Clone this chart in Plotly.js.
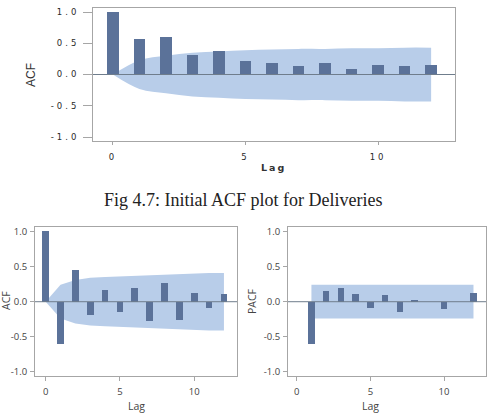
<!DOCTYPE html>
<html>
<head>
<meta charset="utf-8">
<script src="https://cdn.plot.ly/plotly-3.0.1.min.js"></script>
<style>
  html, body { margin: 0; padding: 0; background: #fff; }
  #chart { width: 491px; height: 418px; }
  .xtick text, .ytick text { letter-spacing: 3px; }
</style>
</head>
<body>
<div id="chart"></div>
<script>
// ---- Data ----
const lagsTop = [0, 1, 2, 3, 4, 5, 6, 7, 8, 9, 10, 11, 12];
const acfTop = [1.0, 0.565, 0.597, 0.32, 0.376, 0.215, 0.19, 0.13, 0.19, 0.086, 0.15, 0.13, 0.16];
const bandTop = [0, 0.23, 0.30, 0.35, 0.37, 0.39, 0.40, 0.41, 0.41, 0.42, 0.42, 0.43, 0.43];

const lagsAcf = [0, 1, 2, 3, 4, 5, 6, 7, 8, 9, 10, 11, 12];
const acfDiff = [1.0, -0.60, 0.45, -0.19, 0.16, -0.14, 0.20, -0.27, 0.27, -0.26, 0.13, -0.09, 0.11];
const bandAcf = [0, 0.24, 0.31, 0.34, 0.35, 0.36, 0.37, 0.38, 0.39, 0.40, 0.40, 0.41, 0.41];

const lagsPacf = [1, 2, 3, 4, 5, 6, 7, 8, 9, 10, 11, 12];
const pacfDiff = [-0.60, 0.15, 0.20, 0.11, -0.09, 0.09, -0.14, 0.03, -0.01, -0.10, -0.01, 0.13];
const bandPacf = [0.24, 0.24, 0.24, 0.24, 0.24, 0.24, 0.24, 0.24, 0.24, 0.24, 0.24, 0.24];

const xTickVals = [0, 5, 10];
const xTickText = ['0', '5', '10'];
const yTickVals = [-1, -0.5, 0, 0.5, 1];
const yTickText = ['-1.0', '-0.5', '0.0', '0.5', '1.0'];

const captionText = 'Fig 4.7: Initial ACF plot for Deliveries';
const xTitle = 'Lag';
const yTitleAcf = 'ACF';
const yTitlePacf = 'PACF';

// ---- Styles ----
const barColor = '#5b7299';
const bandColor = '#b8cde9';
const frameColor = '#a6a6a6';
const zeroColor = '#6f7d8c';

const neg = a => a.map(v => -v);

function bandTraces(x, band, xa, ya, shape) {
  return [
    {x: x, y: neg(band), type: 'scatter', mode: 'lines', line: {width: 0, shape: shape, color: bandColor},
     xaxis: xa, yaxis: ya, hoverinfo: 'skip'},
    {x: x, y: band, type: 'scatter', mode: 'lines', line: {width: 0, shape: shape, color: bandColor},
     fill: 'tonexty', fillcolor: bandColor, xaxis: xa, yaxis: ya, hoverinfo: 'skip'}
  ];
}

// bands on the main axes, bars on overlaying axes (same ranges) so bars sit above bands
const traces = [
  ...bandTraces(lagsTop, bandTop, 'x', 'y', 'spline'),
  ...bandTraces(lagsAcf, bandAcf, 'x2', 'y2', 'linear'),
  ...bandTraces(lagsPacf, bandPacf, 'x3', 'y3', 'linear'),
  {x: lagsTop, y: acfTop, type: 'bar', width: 0.44, marker: {color: barColor, line: {width: 0}}, xaxis: 'x4', yaxis: 'y4'},
  {x: lagsAcf, y: acfDiff, type: 'bar', width: 0.45, marker: {color: barColor, line: {width: 0}}, xaxis: 'x5', yaxis: 'y5'},
  {x: lagsPacf, y: pacfDiff, type: 'bar', width: 0.45, marker: {color: barColor, line: {width: 0}}, xaxis: 'x6', yaxis: 'y6'}
];

const W = 491, H = 418;
const px = v => v / W;
const py = v => 1 - v / H;

function xAxis(domain, range, font, standoff, anchor, tlen) {
  return {domain: domain, range: range, anchor: anchor, tickmode: 'array', tickvals: xTickVals, ticktext: xTickText,
    showline: true, mirror: true, linecolor: frameColor, linewidth: 1, ticks: 'outside', ticklen: tlen,
    tickcolor: frameColor, showgrid: false, zeroline: false, tickfont: font, ticklabelstandoff: standoff, fixedrange: true};
}
function yAxis(domain, range, font, standoff, anchor, tlen) {
  return {domain: domain, range: range, anchor: anchor, tickmode: 'array', tickvals: yTickVals, ticktext: yTickText,
    showline: true, mirror: true, linecolor: frameColor, linewidth: 1, ticks: 'outside', ticklen: tlen,
    tickcolor: frameColor, showgrid: false, zeroline: false,
    tickfont: font, ticklabelstandoff: standoff, fixedrange: true};
}
function overlayAxis(over, range, anchor) {
  return {overlaying: over, range: range, anchor: anchor, visible: false, showgrid: false, zeroline: false, fixedrange: true};
}
function zeroLine(xa, ya) {
  return {type: 'line', xref: xa + ' domain', yref: ya, x0: 0, x1: 1, y0: 0, y1: 0, layer: 'above',
    line: {color: zeroColor, width: 1}};
}

const topFont = {family: 'DejaVu Sans, sans-serif', size: 8.5, color: '#2a2a2a'};
const botFont = {family: 'Open Sans, sans-serif', size: 9.5, color: '#444'};

const xrTop = [-0.75, 12.9], yrTop = [-1.064, 1.064];
const xrAcf = [-0.72, 12.88], yrBot = [-1.057, 1.063];
const xrPacf = [-0.59, 12.85];

const layout = {
  width: W, height: H,
  margin: {l: 0, r: 0, t: 0, b: 0},
  paper_bgcolor: '#fff', plot_bgcolor: 'rgba(0,0,0,0)',
  showlegend: false, bargap: 0,
  xaxis: xAxis([px(93), px(455)], xrTop, topFont, 5, 'y', 3),
  yaxis: yAxis([py(141), py(8)], yrTop, topFont, 2, 'x', 9),
  xaxis2: xAxis([px(35), px(237)], xrAcf, botFont, 3, 'y2', 4),
  yaxis2: yAxis([py(376), py(227)], yrBot, botFont, 1, 'x2', 4),
  xaxis3: xAxis([px(288), px(486)], xrPacf, botFont, 3, 'y3', 4),
  yaxis3: yAxis([py(376), py(227)], yrBot, botFont, 1, 'x3', 4),
  xaxis4: overlayAxis('x', xrTop, 'y4'),
  yaxis4: overlayAxis('y', yrTop, 'x4'),
  xaxis5: overlayAxis('x2', xrAcf, 'y5'),
  yaxis5: overlayAxis('y2', yrBot, 'x5'),
  xaxis6: overlayAxis('x3', xrPacf, 'y6'),
  yaxis6: overlayAxis('y3', yrBot, 'x6'),
  shapes: [zeroLine('x', 'y'), zeroLine('x2', 'y2'), zeroLine('x3', 'y3')],
  annotations: [
    {text: captionText, xref: 'paper', yref: 'paper', x: px(242.5), y: py(200), showarrow: false,
     xanchor: 'center', yanchor: 'middle', font: {family: 'Liberation Serif, Times New Roman, serif', size: 18, color: '#222'}},
    {text: '<span style="letter-spacing:2px">' + xTitle + '</span>', xref: 'paper', yref: 'paper', x: px(273), y: py(167), showarrow: false,
     xanchor: 'center', yanchor: 'middle', font: {family: 'DejaVu Sans, sans-serif', size: 9.5, color: '#333', weight: 'bold'}},
    {text: yTitleAcf, xref: 'paper', yref: 'paper', x: px(31), y: py(75), showarrow: false, textangle: -90,
     xanchor: 'center', yanchor: 'middle', font: {family: 'Liberation Sans Narrow, Liberation Sans, sans-serif', size: 12, color: '#333'}},
    {text: xTitle, xref: 'paper', yref: 'paper', x: px(136), y: py(406), showarrow: false,
     xanchor: 'center', yanchor: 'middle', font: {family: 'Open Sans, sans-serif', size: 10.5, color: '#444'}},
    {text: yTitleAcf, xref: 'paper', yref: 'paper', x: px(6), y: py(301), showarrow: false, textangle: -90,
     xanchor: 'center', yanchor: 'middle', font: {family: 'Open Sans, sans-serif', size: 10.5, color: '#444'}},
    {text: xTitle, xref: 'paper', yref: 'paper', x: px(370), y: py(406), showarrow: false,
     xanchor: 'center', yanchor: 'middle', font: {family: 'Open Sans, sans-serif', size: 10.5, color: '#444'}},
    {text: yTitlePacf, xref: 'paper', yref: 'paper', x: px(252), y: py(301), showarrow: false, textangle: -90,
     xanchor: 'center', yanchor: 'middle', font: {family: 'Open Sans, sans-serif', size: 10.5, color: '#444'}}
  ]
};

Plotly.newPlot('chart', traces, layout, {staticPlot: true, displayModeBar: false});
</script>
</body>
</html>
